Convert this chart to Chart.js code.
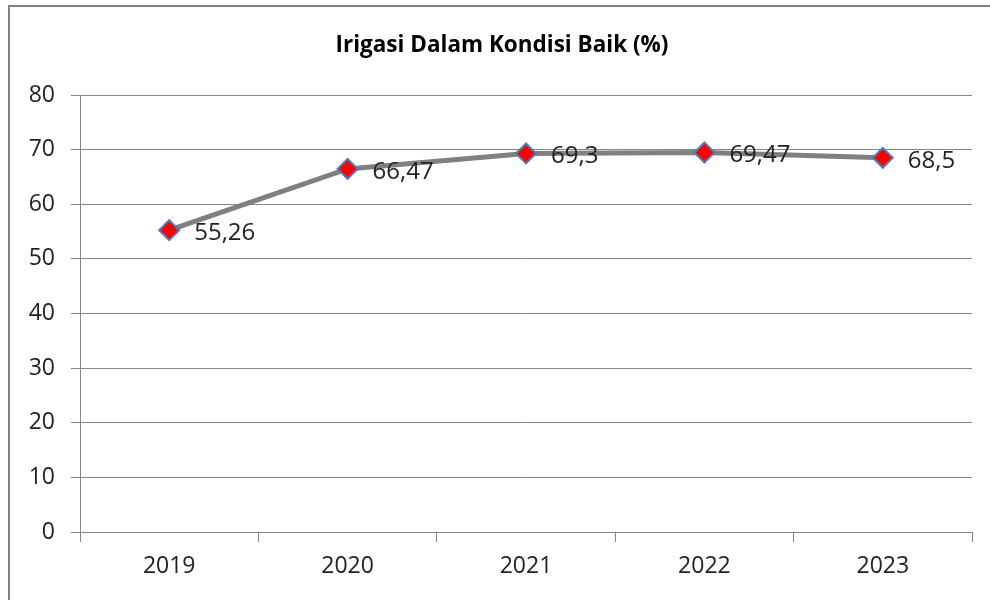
<!DOCTYPE html>
<html>
<head>
<meta charset="utf-8">
<script src="https://cdn.jsdelivr.net/npm/chart.js@4"></script>
<style>
  html, body { margin: 0; padding: 0; background: #ffffff; }
  #wrap { position: relative; width: 990px; height: 600px; overflow: hidden; }
  #frame { position: absolute; left: 8px; top: 5px; width: 990px; height: 600px;
           border-left: 2px solid #7f7f7f; border-top: 2px solid #7f7f7f; box-sizing: border-box; }
  #c { position: absolute; left: 0; top: 0; }
</style>
</head>
<body>
<div id="wrap">
  <div id="frame"></div>
  <canvas id="c" width="990" height="600"></canvas>
</div>
<script>
const chartTitle = 'Irigasi Dalam Kondisi Baik (%)';
const categories = ['2019', '2020', '2021', '2022', '2023'];
const values = [55.26, 66.47, 69.3, 69.47, 68.5];
const yTicks = [0, 10, 20, 30, 40, 50, 60, 70, 80];

const FONT = "'Open Sans', 'Liberation Sans', sans-serif";

const valueLabels = {
  id: 'valueLabels',
  afterDatasetsDraw(chart) {
    const ctx = chart.ctx;
    const meta = chart.getDatasetMeta(0);
    ctx.save();
    ctx.font = '24px ' + FONT;
    ctx.fillStyle = '#222222';
    ctx.textAlign = 'left';
    ctx.textBaseline = 'middle';
    meta.data.forEach((pt, i) => {
      const txt = String(values[i]).replace('.', ',');
      ctx.fillText(txt, pt.x + 25, pt.y + 3);
    });
    ctx.restore();
  }
};

const titleText = {
  id: 'titleText',
  afterDraw(chart) {
    const ctx = chart.ctx;
    ctx.save();
    ctx.font = 'bold 22.5px ' + FONT;
    ctx.fillStyle = '#000000';
    ctx.textAlign = 'center';
    ctx.textBaseline = 'middle';
    ctx.fillText(chartTitle, 502, 46);
    ctx.restore();
  }
};

new Chart(document.getElementById('c'), {
  type: 'line',
  data: {
    labels: categories,
    datasets: [{
      data: values,
      borderColor: '#808080',
      borderWidth: 5,
      tension: 0,
      fill: false,
      pointStyle: 'rectRot',
      pointRadius: 10,
      pointHoverRadius: 10,
      pointBackgroundColor: '#ff0000',
      pointBorderColor: '#4a7ebb',
      pointBorderWidth: 2
    }]
  },
  options: {
    responsive: false,
    animation: false,
    devicePixelRatio: 1,
    layout: { padding: { left: 0, right: 18, top: 95, bottom: 0 } },
    plugins: {
      legend: { display: false },
      tooltip: { enabled: false },
      title: { display: false }
    },
    scales: {
      x: {
        offset: true,
        grid: { offset: true, drawOnChartArea: false, drawTicks: true, tickLength: 10, color: '#868686', lineWidth: 1 },
        border: { display: true, color: '#868686', width: 1 },
        ticks: { color: '#222222', font: { family: FONT, size: 23 }, padding: 11 },
        afterFit(s) { s.height = 68; }
      },
      y: {
        min: 0,
        max: 80,
        afterBuildTicks(s) { s.ticks = yTicks.map(v => ({ value: v })); },
        grid: { color: '#868686', lineWidth: 1, tickLength: 9, drawTicks: true },
        border: { display: true, color: '#868686', width: 1 },
        ticks: { color: '#222222', font: { family: FONT, size: 23 }, padding: 16 },
        afterFit(s) { s.width = 80; }
      }
    }
  },
  plugins: [valueLabels, titleText]
});
</script>
</body>
</html>
